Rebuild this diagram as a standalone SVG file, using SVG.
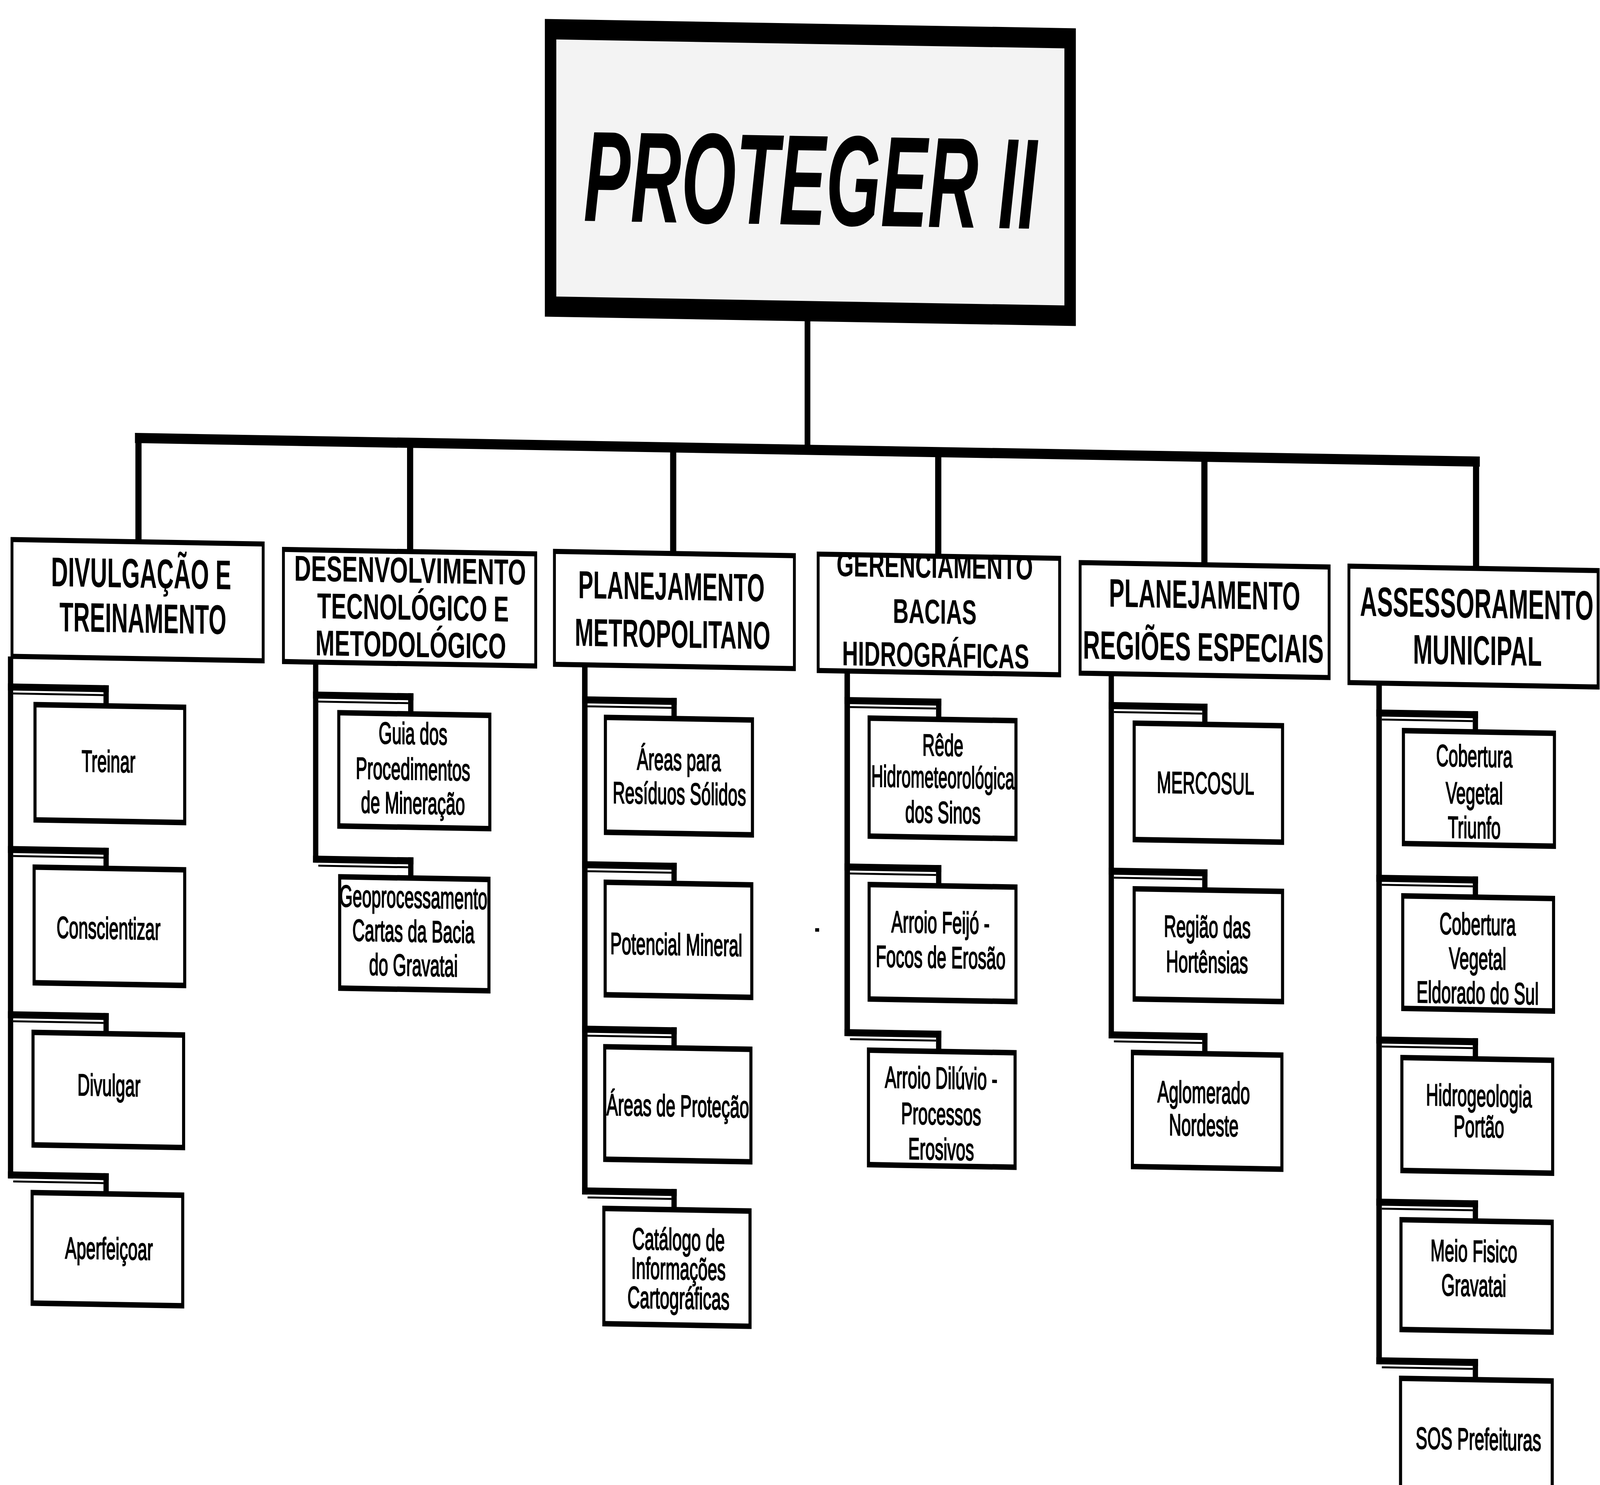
<svg xmlns="http://www.w3.org/2000/svg" width="7268" height="3801" viewBox="0 0 7268 3801" preserveAspectRatio="none" style="width:100vw;height:100vh;display:block">
<style>
.cat{fill:#fff;stroke:#000;stroke-width:13}
.box{fill:#fff;stroke:#000;stroke-width:14}
.ln{fill:#000}
.h{font-family:"Liberation Sans",Arial,Helvetica,sans-serif;font-weight:700;text-anchor:middle;fill:#000}
.t{font-family:"Liberation Sans",Arial,Helvetica,sans-serif;font-size:78px;text-anchor:middle;fill:#000;stroke:#000;stroke-width:2.5}
.ttl{font-family:"Liberation Sans",Arial,Helvetica,sans-serif;font-weight:700;font-style:italic;font-size:330px;text-anchor:middle;fill:#000}
</style>
<rect width="7268" height="3801" fill="#fff"/>
<g transform="matrix(1,0.0099,0,1,0,-36)">
<g id="connectors" class="ln">
<rect x="3655" y="815" width="26" height="330"/>
<rect x="613" y="1138" width="6109" height="26"/>
<rect x="615" y="1160" width="28" height="254"/>
<rect x="1849" y="1160" width="28" height="267"/>
<rect x="3044" y="1160" width="28" height="260"/>
<rect x="4248" y="1160" width="28" height="255"/>
<rect x="5457" y="1160" width="28" height="265"/>
<rect x="6691" y="1160" width="28" height="262"/>
<rect x="36" y="1716" width="24" height="1336"/>
<rect x="36" y="1785" width="458" height="18"/><rect x="60" y="1808" width="410" height="5"/><rect x="470" y="1785" width="24" height="48"/>
<rect x="36" y="2201" width="458" height="18"/><rect x="60" y="2224" width="410" height="5"/><rect x="470" y="2201" width="24" height="48"/>
<rect x="36" y="2624" width="458" height="18"/><rect x="60" y="2647" width="410" height="5"/><rect x="470" y="2624" width="24" height="48"/>
<rect x="36" y="3034" width="458" height="18"/><rect x="60" y="3057" width="410" height="5"/><rect x="470" y="3034" width="24" height="48"/>
<rect x="1422" y="1718" width="24" height="512"/>
<rect x="1422" y="1792" width="456" height="18"/><rect x="1446" y="1815" width="408" height="5"/><rect x="1854" y="1792" width="24" height="48"/>
<rect x="1422" y="2212" width="456" height="18"/><rect x="1446" y="2235" width="408" height="5"/><rect x="1854" y="2212" width="24" height="48"/>
<rect x="2644" y="1712" width="25" height="1355"/>
<rect x="2644" y="1792" width="430" height="18"/><rect x="2669" y="1815" width="381" height="5"/><rect x="3050" y="1792" width="24" height="48"/>
<rect x="2644" y="2214" width="430" height="18"/><rect x="2669" y="2237" width="381" height="5"/><rect x="3050" y="2214" width="24" height="48"/>
<rect x="2644" y="2635" width="430" height="18"/><rect x="2669" y="2658" width="381" height="5"/><rect x="3050" y="2635" width="24" height="48"/>
<rect x="2644" y="3049" width="430" height="18"/><rect x="2669" y="3072" width="381" height="5"/><rect x="3050" y="3049" width="24" height="48"/>
<rect x="3836" y="1716" width="25" height="934"/>
<rect x="3836" y="1782" width="440" height="18"/><rect x="3861" y="1805" width="391" height="5"/><rect x="4252" y="1782" width="24" height="48"/>
<rect x="3836" y="2208" width="440" height="18"/><rect x="3861" y="2231" width="391" height="5"/><rect x="4252" y="2208" width="24" height="48"/>
<rect x="3836" y="2632" width="440" height="18"/><rect x="3861" y="2655" width="391" height="5"/><rect x="4252" y="2632" width="24" height="48"/>
<rect x="5036" y="1713" width="24" height="931"/>
<rect x="5036" y="1783" width="449" height="18"/><rect x="5060" y="1806" width="401" height="5"/><rect x="5461" y="1783" width="24" height="48"/>
<rect x="5036" y="2207" width="449" height="18"/><rect x="5060" y="2230" width="401" height="5"/><rect x="5461" y="2207" width="24" height="48"/>
<rect x="5036" y="2626" width="449" height="18"/><rect x="5060" y="2649" width="401" height="5"/><rect x="5461" y="2626" width="24" height="48"/>
<rect x="6252" y="1723" width="25" height="1743"/>
<rect x="6252" y="1790" width="462" height="18"/><rect x="6277" y="1813" width="413" height="5"/><rect x="6690" y="1790" width="24" height="48"/>
<rect x="6252" y="2213" width="462" height="18"/><rect x="6277" y="2236" width="413" height="5"/><rect x="6690" y="2213" width="24" height="48"/>
<rect x="6252" y="2627" width="462" height="18"/><rect x="6277" y="2650" width="413" height="5"/><rect x="6690" y="2627" width="24" height="48"/>
<rect x="6252" y="3042" width="462" height="18"/><rect x="6277" y="3065" width="413" height="5"/><rect x="6690" y="3042" width="24" height="48"/>
<rect x="6252" y="3448" width="462" height="18"/><rect x="6277" y="3471" width="413" height="5"/><rect x="6690" y="3448" width="24" height="48"/>
</g>
<g id="mark"><rect x="3703" y="2375" width="18" height="9" fill="#000"/></g>
<g id="title">
<rect x="2501" y="86" width="2360" height="710" fill="#f3f3f3" stroke="#000" stroke-width="52"/>
<text class="ttl" x="3681" y="575" textLength="2060" lengthAdjust="spacingAndGlyphs">PROTEGER II</text>
</g>
<g id="divulgacao">
<rect class="cat" x="54.5" y="1416.5" width="1141" height="299"/>
<text class="h" font-size="106" x="641" y="1534" textLength="818" lengthAdjust="spacingAndGlyphs">DIVULGAÇÃO E</text>
<text class="h" font-size="106" x="649" y="1649" textLength="758" lengthAdjust="spacingAndGlyphs">TREINAMENTO</text>
</g>
<g id="treinar"><rect class="box" x="159" y="1838" width="680" height="295"/><text class="t" x="493" y="2007">Treinar</text></g>
<g id="conscientizar"><rect class="box" x="155" y="2254" width="684" height="296"/><text class="t" x="493" y="2434">Conscientizar</text></g>
<g id="divulgar"><rect class="box" x="150" y="2677" width="684" height="288"/><text class="t" x="495" y="2836">Divulgar</text></g>
<g id="aperfeicoar"><rect class="box" x="146" y="3087" width="684" height="283"/><text class="t" x="495" y="3254">Aperfeiçoar</text></g>
<g id="desenvolvimento">
<rect class="cat" x="1287.5" y="1429.5" width="1146" height="287"/>
<text class="h" font-size="92" x="1863" y="1509" textLength="1053" lengthAdjust="spacingAndGlyphs">DESENVOLVIMENTO</text>
<text class="h" font-size="92" x="1876" y="1604" textLength="870" lengthAdjust="spacingAndGlyphs">TECNOLÓGICO E</text>
<text class="h" font-size="92" x="1866" y="1699" textLength="866" lengthAdjust="spacingAndGlyphs">METODOLÓGICO</text>
</g>
<g id="guia"><rect class="box" x="1539" y="1845" width="686" height="290"/>
<text class="t" x="1876" y="1922">Guia dos</text><text class="t" x="1876" y="2013">Procedimentos</text><text class="t" x="1876" y="2100">de Mineração</text></g>
<g id="geoprocessamento"><rect class="box" x="1543" y="2265" width="678" height="285"/>
<text class="t" x="1878" y="2341" textLength="672" lengthAdjust="spacingAndGlyphs">Geoprocessamento</text><text class="t" x="1878" y="2428">Cartas da Bacia</text><text class="t" x="1878" y="2515">do Gravatai</text></g>
<g id="metropolitano">
<rect class="cat" x="2518.5" y="1422.5" width="1090" height="289"/>
<text class="h" font-size="100" x="3050" y="1541" textLength="847" lengthAdjust="spacingAndGlyphs">PLANEJAMENTO</text>
<text class="h" font-size="100" x="3055" y="1663" textLength="888" lengthAdjust="spacingAndGlyphs">METROPOLITANO</text>
</g>
<g id="residuos"><rect class="box" x="2750" y="1845" width="668" height="294"/>
<text class="t" x="3084" y="1977">Áreas para</text><text class="t" x="3086" y="2064" textLength="606" lengthAdjust="spacingAndGlyphs">Resíduos Sólidos</text></g>
<g id="potencial"><rect class="box" x="2749" y="2267" width="666" height="288"/>
<text class="t" x="3072" y="2450" textLength="600" lengthAdjust="spacingAndGlyphs">Potencial Mineral</text></g>
<g id="protecao"><rect class="box" x="2747" y="2688" width="664" height="288"/>
<text class="t" x="3079" y="2863" textLength="648" lengthAdjust="spacingAndGlyphs">Áreas de Proteção</text></g>
<g id="catalogo"><rect class="box" x="2743" y="3102" width="664" height="295"/>
<text class="t" x="3082" y="3205">Catálogo de</text><text class="t" x="3082" y="3280">Informações</text><text class="t" x="3082" y="3355">Cartográficas</text></g>
<g id="gerenciamento">
<rect class="cat" x="3716.5" y="1417.5" width="1097" height="298"/>
<text class="h" font-size="88" x="4246" y="1473" textLength="892" lengthAdjust="spacingAndGlyphs">GERENCIAMENTO</text>
<text class="h" font-size="88" x="4246" y="1590" textLength="380" lengthAdjust="spacingAndGlyphs">BACIAS</text>
<text class="h" font-size="88" x="4250" y="1701" textLength="850" lengthAdjust="spacingAndGlyphs">HIDROGRÁFICAS</text>
</g>
<g id="rede"><rect class="box" x="3948" y="1835" width="667" height="302"/>
<text class="t" x="4283" y="1928">Rêde</text><text class="t" x="4283" y="2010" textLength="650" lengthAdjust="spacingAndGlyphs">Hidrometeorológica</text><text class="t" x="4283" y="2100">dos Sinos</text></g>
<g id="feijo"><rect class="box" x="3948" y="2261" width="667" height="293"/>
<text class="t" x="4272" y="2382">Arroio Feijó -</text><text class="t" x="4273" y="2471">Focos de Erosão</text></g>
<g id="diluvio"><rect class="box" x="3945" y="2685" width="666" height="293"/>
<text class="t" x="4275" y="2780">Arroio Dilúvio -</text><text class="t" x="4275" y="2872">Processos</text><text class="t" x="4275" y="2962">Erosivos</text></g>
<g id="regioes">
<rect class="cat" x="4906.5" y="1427.5" width="1131" height="283"/>
<text class="h" font-size="102" x="5472" y="1539" textLength="869" lengthAdjust="spacingAndGlyphs">PLANEJAMENTO</text>
<text class="h" font-size="102" x="5466" y="1673" textLength="1094" lengthAdjust="spacingAndGlyphs">REGIÕES ESPECIAIS</text>
</g>
<g id="mercosul"><rect class="box" x="5152" y="1836" width="674" height="298"/>
<text class="t" x="5476" y="2013">MERCOSUL</text></g>
<g id="hortensias"><rect class="box" x="5152" y="2260" width="674" height="282"/>
<text class="t" x="5484" y="2381">Região das</text><text class="t" x="5483" y="2471">Hortênsias</text></g>
<g id="aglomerado"><rect class="box" x="5144" y="2679" width="679" height="292"/>
<text class="t" x="5468" y="2805">Aglomerado</text><text class="t" x="5468" y="2889">Nordeste</text></g>
<g id="assessoramento">
<rect class="cat" x="6127.5" y="1424.5" width="1132" height="298"/>
<text class="h" font-size="106" x="6708" y="1551" textLength="1061" lengthAdjust="spacingAndGlyphs">ASSESSORAMENTO</text>
<text class="h" font-size="106" x="6711" y="1671" textLength="585" lengthAdjust="spacingAndGlyphs">MUNICIPAL</text>
</g>
<g id="triunfo"><rect class="box" x="6375" y="1843" width="686" height="289"/>
<text class="t" x="6697" y="1932">Cobertura</text><text class="t" x="6697" y="2027">Vegetal</text><text class="t" x="6697" y="2115">Triunfo</text></g>
<g id="eldorado"><rect class="box" x="6372" y="2266" width="685" height="288"/>
<text class="t" x="6712" y="2362">Cobertura</text><text class="t" x="6712" y="2450">Vegetal</text><text class="t" x="6712" y="2538">Eldorado do Sul</text></g>
<g id="hidrogeologia"><rect class="box" x="6368" y="2680" width="685" height="289"/>
<text class="t" x="6718" y="2801">Hidrogeologia</text><text class="t" x="6718" y="2880">Portão</text></g>
<g id="meiofisico"><rect class="box" x="6364" y="3095" width="687" height="281"/>
<text class="t" x="6695" y="3199">Meio Fisico</text><text class="t" x="6695" y="3287">Gravatai</text></g>
<g id="sos"><rect class="box" x="6362" y="3501" width="689" height="340"/>
<text class="t" x="6716" y="3680" textLength="570" lengthAdjust="spacingAndGlyphs">SOS Prefeituras</text></g>
</g>
</svg>
